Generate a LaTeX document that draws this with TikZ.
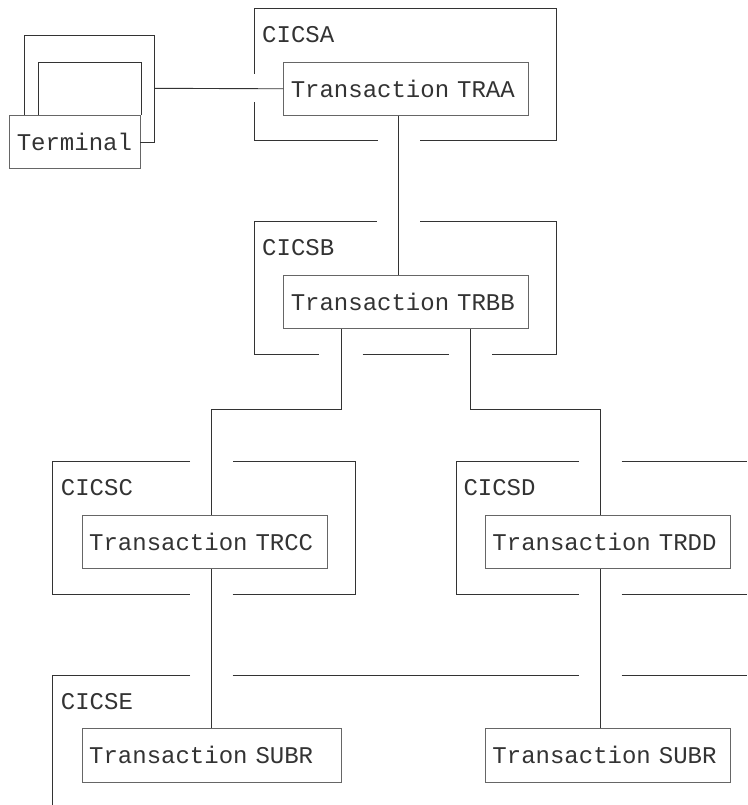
\documentclass[tikz,border=0pt]{standalone}
\usepackage{fontspec}
\setmonofont[WordSpace={1,0,0}]{Liberation Mono}

\begin{document}
\begin{tikzpicture}[x=1pt,y=-1pt,
	box/.style={draw=black!60,line width=0.9pt,inner xsep=7pt,inner ysep=0pt,
		minimum height=53.3pt,anchor=north west,text width=#1,align=left,
		font=\ttfamily\fontsize{24}{24}\selectfont,text=black!80},
	box/.default=231pt,
	frame/.style={draw=black!80,line width=0.9pt},
	lbl/.style={inner sep=0pt,anchor=base west,
		font=\ttfamily\fontsize{24}{24}\selectfont,text=black!80}]
\useasboundingbox (0,0) rectangle (747,805);
	\node[box=117pt] (0) at (9.3,115) {Terminal};
\node[box] (1) at (283.3,61.7) {Transaction TRAA};
\node[box] (2) at (283.3,275) {Transaction TRBB};
\node[box] (3) at (81.7,515) {Transaction TRCC};
\node[box] (4) at (485,515) {Transaction TRDD};
\node[box=245.3pt] (5) at (81.7,728.3) {Transaction SUBR};
\node[box] (6) at (485,728.3) {Transaction SUBR};
\node[lbl] (A) at (262,42.7) {CICSA};
\node[lbl] (B) at (262,255) {CICSB};
\node[lbl] (C) at (60.7,495) {CICSC};
\node[lbl] (D) at (463.3,495) {CICSD};
\node[lbl] (E) at (60.7,709.3) {CICSE};
% terminal stack
\draw[frame] ([xshift=14.7pt]0.north west) -- ++(0,-80) -| (154,142) -- ++(-14,0);
\draw[frame] ([xshift=28.7pt]0.north west) -- ++(0,-53) -| (0.north east);
\coordinate (t) at (154,88.3);
% system frames
\draw[frame] (254.3,74) -- (254.3,8.3) -- (556.7,8.3) -- (556.7,140.7) -- (420,140.7);
\draw[frame] (377.7,140.7) -- (254.3,140.7) -- (254.3,101.7);
\draw[frame] (376.7,221.7) -- (254.3,221.7) -- (254.3,354.3) -- (319.3,354.3);
\draw[frame] (362.7,354.3) -- (449.3,354.3);
\draw[frame] (492.3,354.3) -- (556.7,354.3) -- (556.7,221.7) -- (420,221.7);
\draw[frame] (190,461.7) -- (52.7,461.7) -- (52.7,594.3) -- (190,594.3);
\draw[frame] (232.7,594.3) -- (355,594.3) -- (355,461.7) -- (232.7,461.7);
\draw[frame] (579,461.7) -- (456,461.7) -- (456,594.3) -- (579,594.3);
\foreach \y in {461.7,594.3}
	\draw[frame] (621.7,\y) -- (747,\y);
\draw[frame] (190,675) -- (52.7,675) -- (52.7,805);
\draw[frame] (232.7,675) -- (579,675);
\draw[frame] (621.7,675) -- (747,675);
% links
\draw[frame] (t) -- (1.west);
\draw[frame] ([xshift=115pt]1.south west) -- ([xshift=115pt]2.north west);
\draw[frame] ([xshift=57.7pt]2.south west) -- ++(0,80) -| ([xshift=129.6pt]3.north west);
\draw[frame] ([xshift=187.4pt]2.south west) -- ++(0,80) -| ([xshift=115.3pt]4.north west);
\draw[frame] ([xshift=129.6pt]3.south west) -- ([xshift=129.6pt]5.north west);
\draw[frame] ([xshift=115.3pt]4.south west) -- ([xshift=115.3pt]6.north west);
	\end{tikzpicture}
\end{document}
